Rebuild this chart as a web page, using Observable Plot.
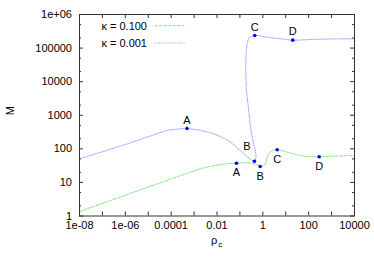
<!DOCTYPE html>
<html><head><meta charset="utf-8">
<script src="https://cdn.jsdelivr.net/npm/d3@7"></script>
<script src="https://cdn.jsdelivr.net/npm/@observablehq/plot@0.6"></script>
<style>
html,body{margin:0;padding:0;background:#fff;}
#chart svg{display:block;}
</style></head><body><div id="chart"></div>
<script>
// κ = 0.100 (green)
const greenRho = [1e-8, 1e-6, 1e-4, 5.15e-4, 1.9e-3, 0.0142, 0.0708, 0.207, 0.478, 0.766, 1.216, 1.594, 2.22, 4.23, 11.9, 32.4, 88.7, 287, 1297, 1e4];
const greenM   = [1.36, 4.16, 12.7, 18.8, 25.4, 34.2, 37.4, 38.4, 35.8, 29.8, 33.5, 59.1, 83.4, 93.6, 79.4, 66.5, 59.1, 57.9, 60.4, 63.4];
// κ = 0.001 (blue)
const blueRho = [1e-8, 1e-6, 1.25e-5, 6.9e-5, 1.83e-4, 4.9e-4, 1.9e-3, 7.24e-3, 0.0387, 0.147, 0.431, 0.502, 0.372, 0.298, 0.237, 0.193, 0.180, 0.193, 0.214, 0.269, 0.445, 0.789, 1.545, 5.89, 20.2, 120, 893, 1e4];
const blueM   = [50.5, 135, 241, 352, 385, 403, 352, 281, 158, 71.2, 42.9, 59.1, 177, 403, 1589, 5460, 30300, 95300, 150000, 211000, 237000, 229000, 211000, 189000, 172000, 180000, 187000, 189000];
// marked points
const markLabels = ["A", "B", "C", "D"];
const greenMarkRho = [0.0708, 0.766, 4.23, 287];
const greenMarkM   = [37.4, 29.8, 93.6, 57.9];
const blueMarkRho  = [4.9e-4, 0.431, 0.445, 20.2];
const blueMarkM    = [403, 42.9, 237000, 172000];
// axes
const xTickValues = [1e-8, 1e-6, 1e-4, 1e-2, 1, 1e2, 1e4];
const xTickLabels = ["1e-08", "1e-06", "0.0001", "0.01", "1", "100", "10000"];
const xMinorValues = [1e-7, 1e-5, 1e-3, 0.1, 10, 1000];
const yTickValues = [1, 10, 100, 1000, 1e4, 1e5, 1e6];
const yTickLabels = ["1", "10", "100", "1000", "10000", "100000", "1e+06"];
const yMinorValues = [2, 5, 20, 50, 200, 500, 2000, 5000, 2e4, 5e4, 2e5, 5e5];
const legendLabels = ["κ = 0.100", "κ = 0.001"];

const GREEN = "#80e680", BLUE = "#9898ff", DOT = "#0000ff", AX = "#333";
const W = 374, H = 262, ML = 79, MR = 20, MT = 14, MB = 46.5;
const IW = W - ML - MR, IH = H - MT - MB;
const FONT = "'Liberation Sans', Arial, sans-serif";

const greenData = greenRho.map((r, i) => ({rho: r, M: greenM[i]}));
const blueData = blueRho.map((r, i) => ({rho: r, M: blueM[i]}));
const greenMarks = greenMarkRho.map((r, i) => ({rho: r, M: greenMarkM[i], label: markLabels[i]}));
const blueMarks = blueMarkRho.map((r, i) => ({rho: r, M: blueMarkM[i], label: markLabels[i]}));

const maj = 4, mnr = 2;
const chart = Plot.plot({
  width: W, height: H,
  marginLeft: ML, marginRight: MR, marginTop: MT, marginBottom: MB,
  style: {fontFamily: FONT, fontSize: "11px", background: "#fff", color: "#000"},
  x: {type: "log", domain: [1e-8, 1e4], axis: null},
  y: {type: "log", domain: [1, 1e6], axis: null},
  marks: [
    Plot.line(greenData, {x: "rho", y: "M", stroke: GREEN, strokeWidth: 1, strokeDasharray: "3,1.5", curve: "catmull-rom"}),
    Plot.line(blueData, {x: "rho", y: "M", stroke: BLUE, strokeWidth: 1, strokeDasharray: "1,1.3", curve: "catmull-rom"}),
    Plot.dot(greenMarks, {x: "rho", y: "M", r: 1.8, fill: DOT, stroke: null}),
    Plot.dot(blueMarks, {x: "rho", y: "M", r: 1.8, fill: DOT, stroke: null}),
    Plot.text(greenMarks, {x: "rho", y: "M", text: "label", dy: 9.5, fontSize: 11, fill: "#000"}),
    Plot.text(blueMarks.filter(d => d.label !== "B"), {x: "rho", y: "M", text: "label", dy: -8.5, fontSize: 11, fill: "#000"}),
    Plot.text(blueMarks.filter(d => d.label === "B"), {x: "rho", y: "M", text: "label", dx: -7.5, dy: -15, fontSize: 11, fill: "#000"}),
    // ticks (inward, mirrored)
    Plot.ruleX(xTickValues.concat(xMinorValues), {x: d => d, insetTop: IH - maj, stroke: AX}),
    Plot.ruleX(xTickValues.concat(xMinorValues), {x: d => d, insetBottom: IH - maj, stroke: AX}),
    Plot.ruleY(yTickValues, {y: d => d, insetRight: IW - maj, stroke: AX}),
    Plot.ruleY(yTickValues, {y: d => d, insetLeft: IW - maj, stroke: AX}),
    Plot.ruleY(yMinorValues, {y: d => d, insetRight: IW - mnr, stroke: AX}),
    Plot.ruleY(yMinorValues, {y: d => d, insetLeft: IW - mnr, stroke: AX}),
    Plot.frame({stroke: AX, strokeWidth: 1}),
    // tick labels
    Plot.text(xTickValues, {x: d => d, text: (d, i) => xTickLabels[i], frameAnchor: "bottom", dy: 13.4, fontSize: 11, fill: "#000"}),
    Plot.text(yTickValues, {y: d => d, text: (d, i) => yTickLabels[i], frameAnchor: "left", textAnchor: "end", dx: -7.5, fontSize: 11, fill: "#000"}),
    // axis titles
    Plot.text(["M"], {text: d => d, frameAnchor: "left", dx: -69, rotate: -90, fontSize: 11, fill: "#000"}),
    Plot.text(["ρ"], {text: d => d, frameAnchor: "bottom", dx: -3, dy: 27.5, fontSize: 11, fill: "#000"}),
    Plot.text(["c"], {text: d => d, frameAnchor: "bottom", dx: 3.2, dy: 31, fontSize: 8, fill: "#000"})
  ]
});
document.getElementById("chart").appendChild(chart);

// legend (inside top-left)
const svg = d3.select(chart);
const lg = svg.append("g").attr("font-family", FONT).attr("font-size", 11);
const legendStyles = [{stroke: GREEN, dash: "3,1.5"}, {stroke: BLUE, dash: "1,1.3"}];
legendLabels.forEach((lab, i) => {
  const y = 25.7 + i * 17.2;
  lg.append("text").attr("x", 147).attr("y", y).attr("dy", "0.35em").attr("text-anchor", "end").attr("fill", "#000").text(lab);
  lg.append("line").attr("x1", 154.5).attr("x2", 185).attr("y1", y).attr("y2", y)
    .attr("stroke", legendStyles[i].stroke).attr("stroke-width", 1).attr("stroke-dasharray", legendStyles[i].dash);
});
</script></body></html>
